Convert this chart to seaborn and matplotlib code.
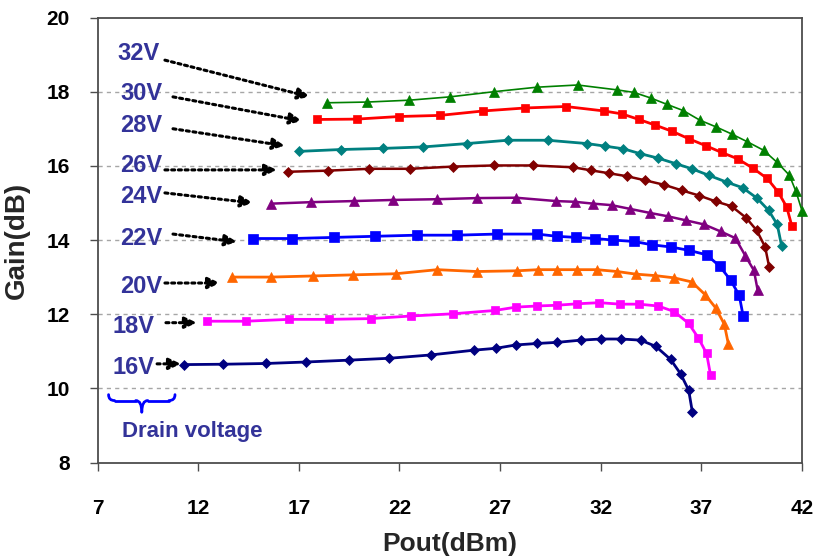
import matplotlib
matplotlib.use("Agg")
import matplotlib.pyplot as plt
from matplotlib import font_manager
from matplotlib.path import Path
from matplotlib.patches import PathPatch
import seaborn as sns
import pandas as pd

# ---------------- data ----------------
voltages = ["32V", "30V", "28V", "26V", "24V", "22V", "20V", "18V", "16V"]

pout_32 = [18.39, 20.40, 22.49, 24.51, 26.71, 28.82, 30.85, 32.79, 33.65, 34.48, 35.28, 36.10,
           36.93, 37.73, 38.50, 39.28, 40.09, 40.77, 41.37, 41.70, 42.0]
gain_32 = [17.70, 17.72, 17.77, 17.86, 18.00, 18.12, 18.18, 18.05, 17.98, 17.83, 17.66, 17.49,
           17.23, 17.05, 16.86, 16.65, 16.42, 16.09, 15.75, 15.31, 14.79]

pout_30 = [17.89, 19.88, 21.99, 24.01, 26.17, 28.24, 30.26, 32.16, 33.06, 33.90, 34.70, 35.55,
           36.38, 37.23, 38.01, 38.80, 39.55, 40.27, 40.82, 41.24, 41.50]
gain_30 = [17.25, 17.26, 17.33, 17.36, 17.48, 17.56, 17.60, 17.48, 17.40, 17.25, 17.10, 16.93,
           16.73, 16.54, 16.36, 16.19, 15.94, 15.66, 15.29, 14.89, 14.37]

pout_28 = [17.02, 19.08, 21.17, 23.19, 25.34, 27.38, 29.36, 31.33, 32.23, 33.12, 33.95, 34.83,
           35.72, 36.53, 37.39, 38.26, 39.05, 39.76, 40.34, 40.77, 40.99]
gain_28 = [16.39, 16.44, 16.47, 16.51, 16.60, 16.69, 16.69, 16.60, 16.53, 16.46, 16.33, 16.21,
           16.06, 15.92, 15.74, 15.56, 15.41, 15.13, 14.80, 14.42, 13.83]

pout_26 = [16.45, 18.45, 20.50, 22.52, 24.67, 26.70, 28.65, 30.64, 31.50, 32.41, 33.30, 34.20,
           35.14, 36.02, 36.88, 37.72, 38.50, 39.22, 39.75, 40.17, 40.37]
gain_26 = [15.84, 15.87, 15.92, 15.92, 15.98, 16.01, 16.01, 15.96, 15.88, 15.80, 15.72, 15.61,
           15.49, 15.34, 15.20, 15.04, 14.91, 14.60, 14.26, 13.81, 13.27]

pout_24 = [15.62, 17.59, 19.74, 21.69, 23.88, 25.84, 27.79, 29.78, 30.72, 31.63, 32.54, 33.45,
           34.45, 35.33, 36.23, 37.13, 37.96, 38.69, 39.18, 39.61, 39.80]
gain_24 = [14.98, 15.02, 15.05, 15.08, 15.10, 15.13, 15.14, 15.05, 15.03, 14.98, 14.94, 14.84,
           14.73, 14.64, 14.53, 14.42, 14.23, 14.05, 13.58, 13.18, 12.64]

pout_22 = [14.71, 16.68, 18.76, 20.77, 22.86, 24.84, 26.83, 28.85, 29.81, 30.77, 31.71, 32.59,
           33.65, 34.56, 35.50, 36.40, 37.26, 37.92, 38.46, 38.88, 39.08]
gain_22 = [14.04, 14.04, 14.07, 14.10, 14.13, 14.13, 14.16, 14.16, 14.10, 14.07, 14.04, 14.00,
           13.96, 13.87, 13.81, 13.72, 13.60, 13.29, 12.91, 12.51, 11.94]

pout_20 = [13.67, 15.62, 17.69, 19.71, 21.81, 23.88, 25.84, 27.86, 28.90, 29.84, 30.84, 31.80,
           32.82, 33.74, 34.70, 35.64, 36.52, 37.18, 37.71, 38.14, 38.34]
gain_20 = [13.00, 13.00, 13.03, 13.06, 13.09, 13.20, 13.15, 13.17, 13.20, 13.20, 13.20, 13.20,
           13.15, 13.08, 13.04, 12.98, 12.87, 12.53, 12.17, 11.73, 11.20]

pout_18 = [12.42, 14.38, 16.51, 18.50, 20.57, 22.57, 24.64, 26.75, 27.79, 28.82, 29.81, 30.84,
           31.93, 32.96, 33.90, 34.86, 35.65, 36.37, 36.85, 37.26, 37.46]
gain_18 = [11.81, 11.81, 11.86, 11.86, 11.88, 11.95, 12.01, 12.10, 12.19, 12.22, 12.24, 12.28,
           12.31, 12.27, 12.27, 12.22, 12.07, 11.75, 11.36, 10.94, 10.35]

pout_16 = [11.30, 13.25, 15.37, 17.36, 19.49, 21.48, 23.55, 25.72, 26.80, 27.79, 28.85, 29.84,
           31.02, 32.01, 33.01, 33.98, 34.74, 35.47, 35.97, 36.37, 36.55]
gain_16 = [10.64, 10.65, 10.67, 10.71, 10.76, 10.81, 10.90, 11.03, 11.08, 11.17, 11.21, 11.24,
           11.30, 11.33, 11.33, 11.30, 11.13, 10.78, 10.39, 9.95, 9.37]

x_ticks = [7, 12, 17, 22, 27, 32, 37, 42]
y_ticks = [8, 10, 12, 14, 16, 18, 20]

# ---------------- styling ----------------
series = {
    "32V": (pout_32, gain_32, "#008000", "^", 7, 1.2),
    "30V": (pout_30, gain_30, "#FF0000", "s", 6, 2.0),
    "28V": (pout_28, gain_28, "#008080", "D", 5, 2.0),
    "26V": (pout_26, gain_26, "#800000", "D", 5, 1.8),
    "24V": (pout_24, gain_24, "#800080", "^", 7, 1.8),
    "22V": (pout_22, gain_22, "#0000FF", "s", 7, 2.0),
    "20V": (pout_20, gain_20, "#FF6600", "^", 7, 2.0),
    "18V": (pout_18, gain_18, "#FF00FF", "s", 6, 2.0),
    "16V": (pout_16, gain_16, "#000080", "D", 5, 2.0),
}

# label positions (left edge x, centre y) and arrow start -> end, in data units
label_pos = {
    "32V": (7.97, 19.04), "30V": (8.12, 17.94), "28V": (8.12, 17.08),
    "26V": (8.12, 16.00), "24V": (8.12, 15.16), "22V": (8.12, 14.03),
    "20V": (8.12, 12.74), "18V": (7.77, 11.68), "16V": (7.77, 10.57),
}
arrows = {
    "32V": ((10.35, 18.85), (17.56, 17.86)),
    "30V": ((10.75, 17.86), (17.16, 17.21)),
    "28V": ((10.75, 17.00), (16.31, 16.54)),
    "26V": ((10.35, 15.89), (15.92, 15.89)),
    "24V": ((10.35, 15.27), (14.72, 15.00)),
    "22V": ((10.75, 14.16), (13.93, 13.95)),
    "20V": ((10.35, 12.84), (13.09, 12.84)),
    "18V": ((10.40, 11.77), (11.94, 11.77)),
    "16V": ((9.96, 10.66), (11.15, 10.66)),
}

sns.set_theme(style="white")
available = {f.name for f in font_manager.fontManager.ttflist}
narrow = "Liberation Sans Narrow" if "Liberation Sans Narrow" in available else "Liberation Sans"
plt.rcParams["font.family"] = ["Liberation Sans", "DejaVu Sans"]

fig = plt.figure(figsize=(8.18, 5.59), dpi=100)
ax = fig.add_axes([97.5 / 818, 1 - 462.5 / 559, (802 - 97.5) / 818, (462.5 - 17.5) / 559])

frames = []
for name, (xs, ys, *_rest) in series.items():
    frames.append(pd.DataFrame({"Pout": xs, "Gain": ys, "Vd": name}))
df = pd.concat(frames, ignore_index=True)

for name, (xs, ys, col, mk, ms, lw) in series.items():
    sub = df[df["Vd"] == name]
    sns.lineplot(data=sub, x="Pout", y="Gain", ax=ax, sort=False, estimator=None,
                 color=col, marker=mk, markersize=ms, linewidth=lw,
                 markeredgecolor=col, markeredgewidth=0.5, clip_on=False, zorder=3)

ax.set_xlim(7, 42)
ax.set_ylim(8, 20)
ax.set_xticks(x_ticks)
ax.set_yticks(y_ticks)

for gy in y_ticks[1:-1]:
    ax.axhline(gy, color="#a6a6a6", linestyle=(0, (3, 3)), linewidth=1.0, zorder=1)

for sp in ax.spines.values():
    sp.set_color("#4d4d4d")
    sp.set_linewidth(1.3)

ax.tick_params(axis="x", which="both", direction="out", length=6, width=1,
               color="#4d4d4d", bottom=True, pad=20)
ax.tick_params(axis="y", which="both", direction="out", length=6, width=1,
               color="#4d4d4d", left=True, pad=14)
for lab in ax.get_xticklabels() + ax.get_yticklabels():
    lab.set_fontfamily(narrow)
    lab.set_fontweight("bold")
    lab.set_fontsize(15)
    lab.set_color("black")

ax.set_xlabel("Pout(dBm)", fontfamily=narrow, fontweight="bold", fontsize=19, labelpad=10)
ax.set_ylabel("Gain(dB)", fontfamily=narrow, fontweight="bold", fontsize=20, labelpad=12)

label_color = "#333399"
for name, (lx, ly) in label_pos.items():
    ax.text(lx, ly, name, color=label_color, fontsize=17, fontweight="bold",
            ha="left", va="center", zorder=4)
    (sx, sy), (ex, ey) = arrows[name]
    ax.annotate("", xy=(ex, ey), xytext=(sx, sy),
                arrowprops=dict(arrowstyle="-|>,head_length=0.6,head_width=0.28",
                                linestyle=(0, (1, 1.2)), lw=2.2, color="black",
                                shrinkA=0, shrinkB=0), zorder=4)

ax.text(8.22, 8.83, "Drain voltage", color=label_color, fontsize=16, fontweight="bold",
        ha="left", va="center", zorder=4)

# curly brace under the "16V" label
x0, x1, yt, yb = 7.55, 10.85, 9.83, 9.36
xc = (x0 + x1) / 2
ym = yt - 0.16
pieces = [
    ([(x0, yt), (x0, ym), (x0 + 0.3, ym)], [Path.MOVETO, Path.CURVE3, Path.CURVE3]),
    ([(x0 + 0.3, ym), (xc - 0.3, ym)], [Path.MOVETO, Path.LINETO]),
    ([(xc - 0.3, ym), (xc, ym), (xc, yb)], [Path.MOVETO, Path.CURVE3, Path.CURVE3]),
    ([(xc, yb), (xc, ym), (xc + 0.3, ym)], [Path.MOVETO, Path.CURVE3, Path.CURVE3]),
    ([(xc + 0.3, ym), (x1 - 0.3, ym)], [Path.MOVETO, Path.LINETO]),
    ([(x1 - 0.3, ym), (x1, ym), (x1, yt)], [Path.MOVETO, Path.CURVE3, Path.CURVE3]),
]
for v, c in pieces:
    ax.add_patch(PathPatch(Path(v, c), facecolor="none", edgecolor="#0000FF",
                           linewidth=2.0, zorder=4, capstyle="round"))

fig.savefig("out.png", dpi=100)
